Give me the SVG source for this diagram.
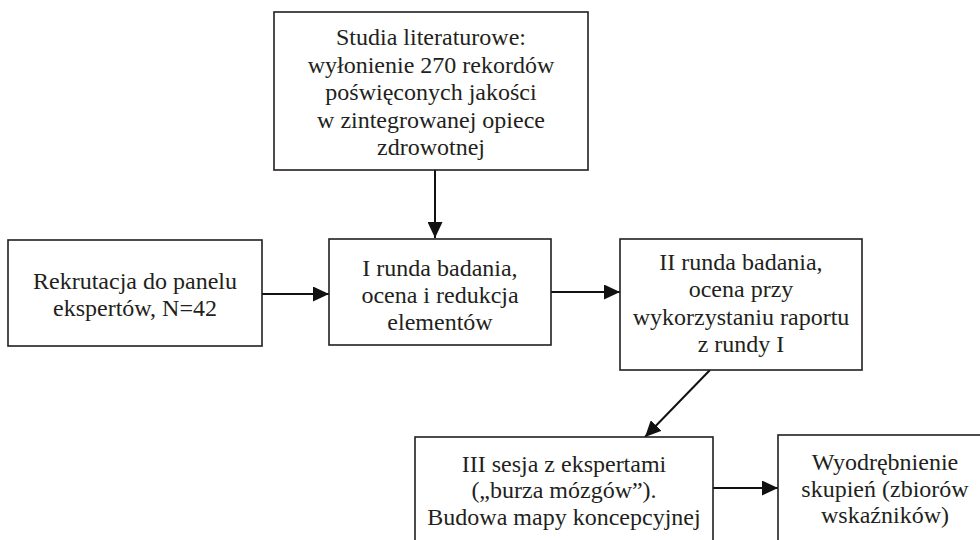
<svg xmlns="http://www.w3.org/2000/svg" width="980" height="540" viewBox="0 0 980 540">
<style>
.box{fill:#fff;stroke:#231f20;stroke-width:1.6}
.t{font-family:'Liberation Serif','Times New Roman',Times,serif;font-size:24px;fill:#231f20;text-anchor:middle}
.c{stroke:#111;stroke-width:2;fill:none;marker-end:url(#ah)}
</style>
<defs>
<marker id="ah" markerUnits="userSpaceOnUse" markerWidth="16" markerHeight="15" refX="16" refY="7.5" orient="auto">
<path d="M0,0 L16,7.5 L0,15 z" fill="#111"/>
</marker>
</defs>
<rect width="980" height="540" fill="#fff"/>
<g id="connectors">
<line class="c" x1="435" y1="170" x2="435" y2="238"/>
<line class="c" x1="262" y1="294" x2="329" y2="294"/>
<line class="c" x1="551" y1="292" x2="620" y2="292"/>
<line class="c" x1="710" y1="370" x2="645" y2="437"/>
<line class="c" x1="713" y1="488" x2="778" y2="488"/>
</g>
<g id="n-studia">
<rect class="box" x="274" y="12" width="314" height="158"/>
<text class="t"><tspan x="431" y="45">Studia literaturowe:</tspan><tspan x="431" y="72.5">wyłonienie 270 rekordów</tspan><tspan x="431" y="100">poświęconych jakości</tspan><tspan x="431" y="127.5">w zintegrowanej opiece</tspan><tspan x="431" y="155">zdrowotnej</tspan></text>
</g>
<g id="n-rekrutacja">
<rect class="box" x="8" y="240" width="254" height="106"/>
<text class="t"><tspan x="135" y="289">Rekrutacja do panelu</tspan><tspan x="135" y="316">ekspertów, N=42</tspan></text>
</g>
<g id="n-runda1">
<rect class="box" x="329" y="239" width="222" height="106"/>
<text class="t"><tspan x="440" y="276">I runda badania,</tspan><tspan x="440" y="303">ocena i redukcja</tspan><tspan x="440" y="330">elementów</tspan></text>
</g>
<g id="n-runda2">
<rect class="box" x="620" y="239" width="242" height="131"/>
<text class="t"><tspan x="741" y="270">II runda badania,</tspan><tspan x="741" y="297">ocena przy</tspan><tspan x="741" y="325">wykorzystaniu raportu</tspan><tspan x="741" y="352">z rundy I</tspan></text>
</g>
<g id="n-sesja3">
<rect class="box" x="415" y="437" width="298" height="130"/>
<text class="t"><tspan x="564" y="472">III sesja z ekspertami</tspan><tspan x="564" y="498">(„burza mózgów”).</tspan><tspan x="564" y="525">Budowa mapy koncepcyjnej</tspan></text>
</g>
<g id="n-skupienia">
<rect class="box" x="778" y="435" width="214" height="130"/>
<text class="t"><tspan x="885" y="470">Wyodrębnienie</tspan><tspan x="885" y="497">skupień (zbiorów</tspan><tspan x="885" y="523">wskaźników)</tspan></text>
</g>
</svg>
